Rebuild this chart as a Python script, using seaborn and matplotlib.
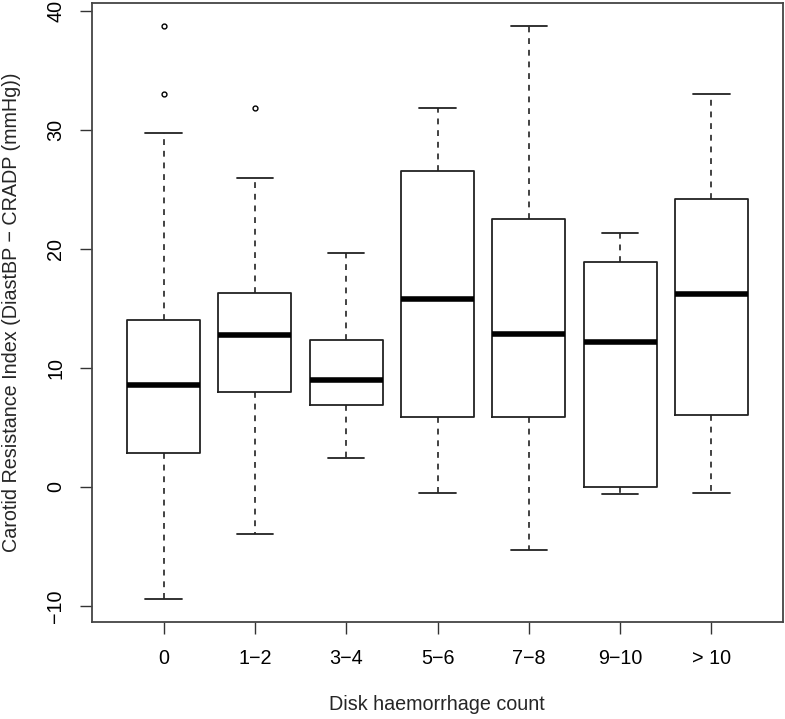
import matplotlib
matplotlib.use("Agg")
import matplotlib.pyplot as plt
import seaborn as sns

# Group labels (disk haemorrhage count)
groups = ["0", "1\u22122", "3\u22124", "5\u22126", "7\u22128", "9\u221210", "> 10"]

# Box statistics (mmHg)
whisker_low = [-9.4, -4.0, 2.4, -0.5, -5.3, -0.6, -0.5]
q1 = [2.85, 8.0, 6.85, 5.9, 5.9, 0.0, 6.0]
medians = [8.55, 12.75, 8.95, 15.8, 12.8, 12.15, 16.2]
q3 = [14.0, 16.3, 12.3, 26.5, 22.5, 18.9, 24.2]
whisker_high = [29.7, 25.9, 19.6, 31.85, 38.75, 21.3, 33.0]
outliers = [[38.75, 33.0], [31.85], [], [], [], [], []]

sns.set_theme(style="ticks")
plt.rcParams["font.family"] = ["Liberation Sans", "DejaVu Sans"]

stats = []
for i, g in enumerate(groups):
    stats.append({
        "label": g,
        "whislo": whisker_low[i],
        "q1": q1[i],
        "med": medians[i],
        "q3": q3[i],
        "whishi": whisker_high[i],
        "fliers": outliers[i],
    })

fig = plt.figure(figsize=(7.85, 7.19), dpi=100)
ax = fig.add_axes([0.1176, 0.1353, 0.8795, 0.8605])

line_col = "#222222"
positions = list(range(1, len(groups) + 1))
ax.bxp(
    stats,
    positions=positions,
    widths=0.8,
    capwidths=0.4,
    showfliers=True,
    boxprops=dict(color=line_col, linewidth=1.3),
    medianprops=dict(color="black", linewidth=4),
    whiskerprops=dict(color=line_col, linewidth=1.2, linestyle=(0, (3.5, 3.5))),
    capprops=dict(color=line_col, linewidth=1.3),
    flierprops=dict(marker="o", markersize=3.5, markerfacecolor="none",
                    markeredgecolor="black", markeredgewidth=1.0),
)

ax.set_xlim(0.22, 7.78)
ax.set_ylim(-11.33, 40.64)
ax.set_yticks([-10, 0, 10, 20, 30, 40])
ax.set_xticks(positions)
ax.set_xticklabels(groups)
for lbl in ax.get_yticklabels():
    lbl.set_rotation(90)
    lbl.set_va("center")

ax.tick_params(axis="both", direction="out", length=8.5, width=1.0,
               color="#333333", labelsize=14.2, labelcolor="black", pad=11)
for s in ax.spines.values():
    s.set_visible(True)
    s.set_color("#444444")
    s.set_linewidth(1.3)
ax.set_facecolor("white")
ax.grid(False)

fig.text(0.557, 0.0195, "Disk haemorrhage count", ha="center", va="center",
         fontsize=14.2)
fig.text(0.015, 0.5654, "Carotid Resistance Index (DiastBP \u2212 CRADP (mmHg))",
         ha="center", va="center", rotation=90, fontsize=14.2)

fig.savefig("out.png", dpi=100, facecolor="white")
